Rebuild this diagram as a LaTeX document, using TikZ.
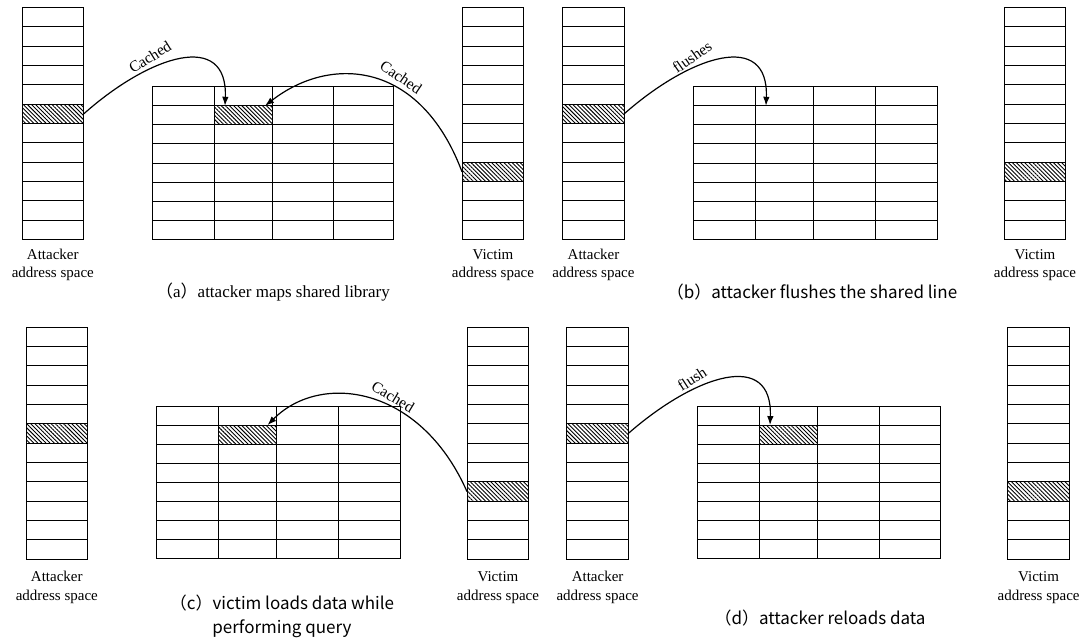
\documentclass[tikz,border=0pt]{standalone}
\usepackage{fontspec}
\setmainfont{Liberation Serif}
\newfontfamily\cjk{Noto Sans CJK SC}
\newfontfamily\edgefont[Ligatures=NoCommon]{Liberation Serif}
\usetikzlibrary{patterns.meta,arrows.meta}
\tikzset{
  cell/.style={draw=black, line width=1pt},
  hcell/.style={draw=black, line width=1pt, pattern={Lines[angle=135,distance=2.9pt,line width=0.9pt]}},
  pcell/.style={draw=black, line width=1pt},
  conn/.style={line width=1.2pt, -{Latex[length=9pt,width=6.5pt]}},
  lbl/.style={font=\fontsize{15}{18.5}\selectfont, align=center, inner sep=0pt},
  elbl/.style={font={\edgefont\fontsize{15.5}{18}\selectfont}, inner sep=0pt},
  capserif/.style={font=\fontsize{17}{24}\selectfont, align=center, inner sep=0pt},
  capsans/.style={font={\cjk\fontsize{17}{24}\selectfont}, align=center, inner sep=0pt}
}
% #1 name of hatched node, #2 x left, #3 y top, #4 hatched row
\newcommand\memcol[4]{%
  \foreach \i in {0,...,11}{\draw[cell] (#2,{#3+\i*19.33}) rectangle ++(61.5,19.33);}
  \node[hcell, minimum width=61.5pt, minimum height=19.33pt, inner sep=0pt, outer sep=0pt, anchor=north west] (#1) at (#2,{#3+(#4-1)*19.33}) {};
}
% #1 name of target cell, #2 its style, #3..#7 column x, #8 y top
\newcommand\cachetab[8]{%
  \foreach \r in {0,...,7}{
    \foreach \a/\b in {#3/#4,#4/#5,#5/#6,#6/#7}{
      \draw[cell] (\a,{#8+\r*19.1}) rectangle (\b,{#8+(\r+1)*19.1});
    }
  }
  \node[#2, minimum width={(#5-#4)*1pt}, minimum height=19.1pt, inner sep=0pt, outer sep=0pt, anchor=north west] (#1) at (#4,{#8+19.1}) {};
}
\begin{document}
\begin{tikzpicture}[x=1pt,y=-1pt]
\useasboundingbox (0,0) rectangle (1081,639);
% ---------- panel (a)
\memcol{aA}{22.3}{7.5}{6}
\memcol{aV}{462}{7.5}{9}
\cachetab{aT}{hcell}{152.3}{214}{272}{333.3}{393.5}{86.7}
\node[lbl] (aAl) at (52.8,265) {Attacker\\address space};
\node[lbl] (aVl) at (493,265) {Victim\\address space};
\node[capserif] (capa) at (273,292) {{\cjk （}a{\cjk ）}attacker maps shared library};
\draw[conn] (aA.east) .. controls (150,55) and (228,30) .. ([xshift=11pt]aT.north west);
\draw[conn] (aV.west) .. controls (420,60) and (330,55) .. ([xshift=-7pt]aT.north east);
\node[elbl, rotate=32] (aL1) at (150,57) {Cached};
\node[elbl, rotate=-34] (aL2) at (401,77) {Cached};
% ---------- panel (b)
\memcol{bA}{562.7}{7.5}{6}
\memcol{bV}{1004}{7.5}{9}
\cachetab{bT}{pcell}{693}{755}{813}{875}{937}{86.7}
\node[lbl] (bAl) at (593.5,265) {Attacker\\address space};
\node[lbl] (bVl) at (1035,265) {Victim\\address space};
\node[capsans] (capb) at (812,292) {（b）attacker flushes the shared line};
\draw[conn] (bA.east) .. controls (691,55) and (769,30) .. ([xshift=11pt]bT.north west);
\node[elbl, rotate=35] (bL) at (692,57) {flushes};
% ---------- panel (c)
\memcol{cA}{26}{327.3}{6}
\memcol{cV}{467}{327.3}{9}
\cachetab{cT}{hcell}{156.4}{218.7}{276.5}{338.4}{400.3}{406}
\node[lbl] (cAl) at (56.8,587.5) {Attacker\\address space};
\node[lbl] (cVl) at (498,587.5) {Victim\\address space};
\node[capsans] (capc) at (282,616) {（c）victim loads data while\\performing query};
\draw[conn] (cV.west) .. controls (420,385) and (320,372) .. ([xshift=-9pt]cT.north east);
\node[elbl, rotate=-31] (cL) at (393,397) {Cached};
% ---------- panel (d)
\memcol{dA}{566.6}{327.3}{6}
\memcol{dV}{1007.8}{327.3}{9}
\cachetab{dT}{hcell}{697.4}{759}{817.2}{879}{940.7}{406}
\node[lbl] (dAl) at (597.6,587.5) {Attacker\\address space};
\node[lbl] (dVl) at (1038.6,587.5) {Victim\\address space};
\node[capsans] (capd) at (820,618) {（d）attacker reloads data};
\draw[conn] (dA.east) .. controls (695,375) and (773,349) .. ([xshift=11pt]dT.north west);
\node[elbl, rotate=33] (dL) at (692,379) {flush};
\end{tikzpicture}
\end{document}
